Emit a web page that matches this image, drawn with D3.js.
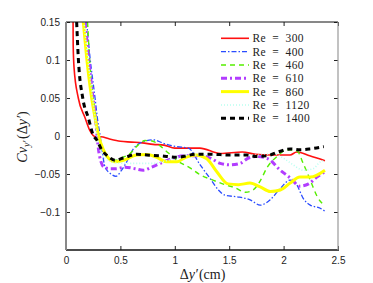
<!DOCTYPE html>
<html>
<head>
<meta charset="utf-8">
<script src="https://cdn.jsdelivr.net/npm/d3@7"></script>
<style>
  body { margin: 0; background: #fff; }
  svg { display: block; }
  .tick text { font-family: "Liberation Sans", Arial, sans-serif; font-size: 10px; fill: #222; }
</style>
</head>
<body>
<div id="container"></div>
<script>
// series: [dy', Cv] pairs
const re300 = [[0.065,0.15],[0.066,0.12],[0.074,0.09],[0.113,0.05],[0.175,0.024],[0.22,0.007],[0.27,-0.001],[0.32,-0.001],[0.40,-0.004],[0.50,-0.007],[0.60,-0.008],[0.70,-0.009],[0.80,-0.011],[0.90,-0.012],[1.0,-0.016],[1.23,-0.016],[1.42,-0.023],[1.62,-0.021],[1.74,-0.024],[1.88,-0.025],[2.06,-0.025],[2.12,-0.021],[2.24,-0.026],[2.38,-0.0325]];
const re400 = [[0.19,0.15],[0.221,0.103],[0.267,0.05],[0.288,0.024],[0.313,0.001],[0.331,-0.018],[0.359,-0.041],[0.405,-0.049],[0.46,-0.053],[0.506,-0.046],[0.558,-0.034],[0.619,-0.017],[0.711,-0.0075],[0.803,-0.005],[0.895,-0.0096],[1.018,-0.014],[1.125,-0.016],[1.233,-0.038],[1.325,-0.056],[1.401,-0.071],[1.463,-0.078],[1.57,-0.080],[1.693,-0.084],[1.785,-0.091],[1.877,-0.084],[1.969,-0.069],[2.06,-0.058],[2.12,-0.064],[2.18,-0.082],[2.245,-0.091],[2.337,-0.095],[2.38,-0.099]];
const re460 = [[0.198,0.15],[0.216,0.103],[0.251,0.05],[0.276,0.024],[0.297,0.001],[0.322,-0.012],[0.35,-0.022],[0.386,-0.029],[0.451,-0.032],[0.524,-0.028],[0.589,-0.023],[0.662,-0.012],[0.727,-0.006],[0.791,-0.0066],[0.865,-0.013],[0.938,-0.022],[1.018,-0.032],[1.14,-0.042],[1.233,-0.051],[1.35,-0.058],[1.46,-0.064],[1.55,-0.068],[1.65,-0.074],[1.72,-0.071],[1.785,-0.059],[1.85,-0.041],[1.94,-0.027],[2.03,-0.018],[2.125,-0.020],[2.18,-0.036],[2.245,-0.058],[2.31,-0.080],[2.38,-0.092]];
const re610 = [[0.175,0.15],[0.207,0.103],[0.248,0.05],[0.271,0.024],[0.285,0.001],[0.299,-0.018],[0.322,-0.034],[0.35,-0.041],[0.405,-0.043],[0.46,-0.043],[0.543,-0.041],[0.635,-0.043],[0.711,-0.045],[0.788,-0.041],[0.895,-0.034],[0.987,-0.029],[1.095,-0.026],[1.233,-0.026],[1.325,-0.029],[1.417,-0.036],[1.509,-0.038],[1.6,-0.036],[1.677,-0.029],[1.757,-0.027],[1.858,-0.030],[1.97,-0.045],[2.06,-0.055],[2.15,-0.066],[2.23,-0.063],[2.306,-0.054],[2.38,-0.047]];
const re860 = [[0.159,0.15],[0.19,0.103],[0.236,0.05],[0.267,0.024],[0.297,0.002],[0.343,-0.018],[0.389,-0.029],[0.451,-0.034],[0.527,-0.032],[0.65,-0.025],[0.742,-0.0245],[0.834,-0.028],[0.926,-0.034],[1.018,-0.034],[1.10,-0.028],[1.196,-0.025],[1.294,-0.030],[1.386,-0.047],[1.49,-0.063],[1.585,-0.064],[1.69,-0.062],[1.785,-0.067],[1.877,-0.073],[1.97,-0.071],[2.06,-0.062],[2.15,-0.054],[2.245,-0.054],[2.38,-0.045]];
const re1120 = [[0.166,0.15],[0.2,0.103],[0.244,0.05],[0.267,0.024],[0.285,0.001],[0.313,-0.018],[0.359,-0.029],[0.423,-0.034],[0.543,-0.036],[0.68,-0.036],[0.819,-0.036],[0.91,-0.033],[1.003,-0.029],[1.14,-0.025],[1.28,-0.025],[1.417,-0.025],[1.6,-0.025],[1.785,-0.025],[1.904,-0.023],[1.996,-0.029],[2.088,-0.038],[2.18,-0.045],[2.272,-0.043],[2.337,-0.034],[2.38,-0.032]];
const re1400 = [[0.098,0.15],[0.113,0.103],[0.154,0.05],[0.205,0.024],[0.251,0.001],[0.282,-0.005],[0.328,-0.018],[0.389,-0.027],[0.451,-0.032],[0.527,-0.029],[0.65,-0.024],[0.742,-0.025],[0.865,-0.026],[1.018,-0.028],[1.2,-0.024],[1.325,-0.024],[1.51,-0.025],[1.66,-0.025],[1.75,-0.027],[1.85,-0.026],[1.97,-0.02],[2.06,-0.017],[2.15,-0.018],[2.24,-0.017],[2.37,-0.014]];

const labels = ["300","400","460","610","860","1120","1400"];
const xTicks = [0, 0.5, 1, 1.5, 2, 2.5];
const yTicks = [-0.1, -0.05, 0, 0.05, 0.1, 0.15];

const styles = [
    {color: "#ff1010", width: 1.6, dash: null},
    {color: "#2a4cff", width: 1.3, dash: "5,2,1.5,2"},
    {color: "#55ee00", width: 1.4, dash: "5,4"},
    {color: "#b23cff", width: 3, dash: "6,3,2,3"},
    {color: "#ffff00", width: 3, dash: null},
    {color: "#b8fff0", width: 1.6, dash: "1,2"},
    {color: "#000000", width: 3, dash: "5,4"}
];
const series = [re300, re400, re460, re610, re860, re1120, re1400];

const w = 373, h = 283;
const padL = 66, padR = 338, padT = 22, padB = 250;

const x = d3.scaleLinear().domain([0, 2.5]).range([padL, padR]);
const y = d3.scaleLinear().domain([-0.15, 0.15]).range([padB, padT]);

const svg = d3.select("#container").append("svg")
    .attr("width", w).attr("height", h);

svg.append("clipPath").attr("id", "clip")
    .append("rect").attr("x", padL).attr("y", padT)
    .attr("width", padR - padL).attr("height", padB - padT);

const line = d3.line()
    .x((d) => x(d[0]))
    .y((d) => y(d[1]))
    .curve(d3.curveMonotoneX);

svg.append("g").attr("clip-path", "url(#clip)")
    .selectAll("path")
    .data(series)
    .enter()
    .append("path")
    .attr("d", (d) => line(d))
    .attr("fill", "none")
    .attr("stroke", (d, i) => styles[i].color)
    .attr("stroke-width", (d, i) => styles[i].width)
    .attr("stroke-dasharray", (d, i) => styles[i].dash)
    .attr("stroke-linejoin", "round");

// axes, ticks pointing inward
const fmt = (v) => d3.format("")(v).replace("-", "\u2212");

svg.append("g")
    .attr("transform", "translate(0," + padB + ")")
    .call(d3.axisBottom(x).tickValues(xTicks).tickSize(-4).tickPadding(7).tickFormat(fmt));
svg.append("g")
    .attr("transform", "translate(0," + padT + ")")
    .call(d3.axisTop(x).tickValues(xTicks).tickSize(-4).tickFormat(""));
svg.append("g")
    .attr("transform", "translate(" + padL + ",0)")
    .call(d3.axisLeft(y).tickValues(yTicks).tickSize(-4).tickPadding(6).tickFormat(fmt));
svg.append("g")
    .attr("transform", "translate(" + padR + ",0)")
    .call(d3.axisRight(y).tickValues(yTicks).tickSize(-4).tickFormat(""));

svg.selectAll(".domain").remove();
svg.selectAll(".tick line").attr("stroke", "#222");

// frame: top/bottom black, sides gray
svg.append("line").attr("x1", padL).attr("x2", padR).attr("y1", padT).attr("y2", padT)
    .attr("stroke", "#111").attr("stroke-width", 1);
svg.append("line").attr("x1", padL).attr("x2", padR + 1).attr("y1", padB).attr("y2", padB)
    .attr("stroke", "#111").attr("stroke-width", 1.5);
svg.append("line").attr("x1", padL).attr("x2", padL).attr("y1", padT).attr("y2", padB)
    .attr("stroke", "#888").attr("stroke-width", 2);
svg.append("line").attr("x1", padR).attr("x2", padR).attr("y1", padT).attr("y2", padB)
    .attr("stroke", "#999").attr("stroke-width", 1.2);

// legend
const serif = "'Liberation Serif', 'DejaVu Serif', serif";
const legend = svg.append("g");
const rows = legend.selectAll("g")
    .data(labels)
    .enter()
    .append("g")
    .attr("transform", (d, i) => "translate(0," + (38.3 + i * 13.33) + ")");
rows.append("line")
    .attr("x1", 221).attr("x2", 249).attr("y1", 0).attr("y2", 0)
    .attr("stroke", (d, i) => styles[i].color)
    .attr("stroke-width", (d, i) => styles[i].width)
    .attr("stroke-dasharray", (d, i) => styles[i].dash);
rows.append("text")
    .attr("x", 252.5).attr("y", 4)
    .style("font-family", serif)
    .style("font-size", "11.5px")
    .style("word-spacing", "3px")
    .style("letter-spacing", "0.4px")
    .style("fill", "#222")
    .text((d) => "Re = " + d);

// axis labels
const xl = svg.append("text")
    .attr("x", 202.5).attr("y", 278.5)
    .attr("text-anchor", "middle")
    .style("font-family", serif)
    .style("font-size", "14px")
    .style("fill", "#222");
xl.append("tspan").text("\u0394");
xl.append("tspan").style("font-style", "italic").text("y\u2032");
xl.append("tspan").attr("dx", 1).text("(cm)");

const yl = svg.append("text")
    .attr("transform", "translate(27," + ((padT + padB) / 2 + 1) + ") rotate(-90)")
    .attr("text-anchor", "middle")
    .style("font-family", serif)
    .style("font-size", "14px")
    .style("fill", "#222");
yl.append("tspan").style("font-style", "italic").text("Cv");
yl.append("tspan").style("font-style", "italic").style("font-size", "10px").attr("dy", 3).text("y\u2032");
yl.append("tspan").attr("dy", -3).attr("dx", 1.5).text("(\u0394");
yl.append("tspan").style("font-style", "italic").text("y\u2032");
yl.append("tspan").text(")");
</script>
</body>
</html>
